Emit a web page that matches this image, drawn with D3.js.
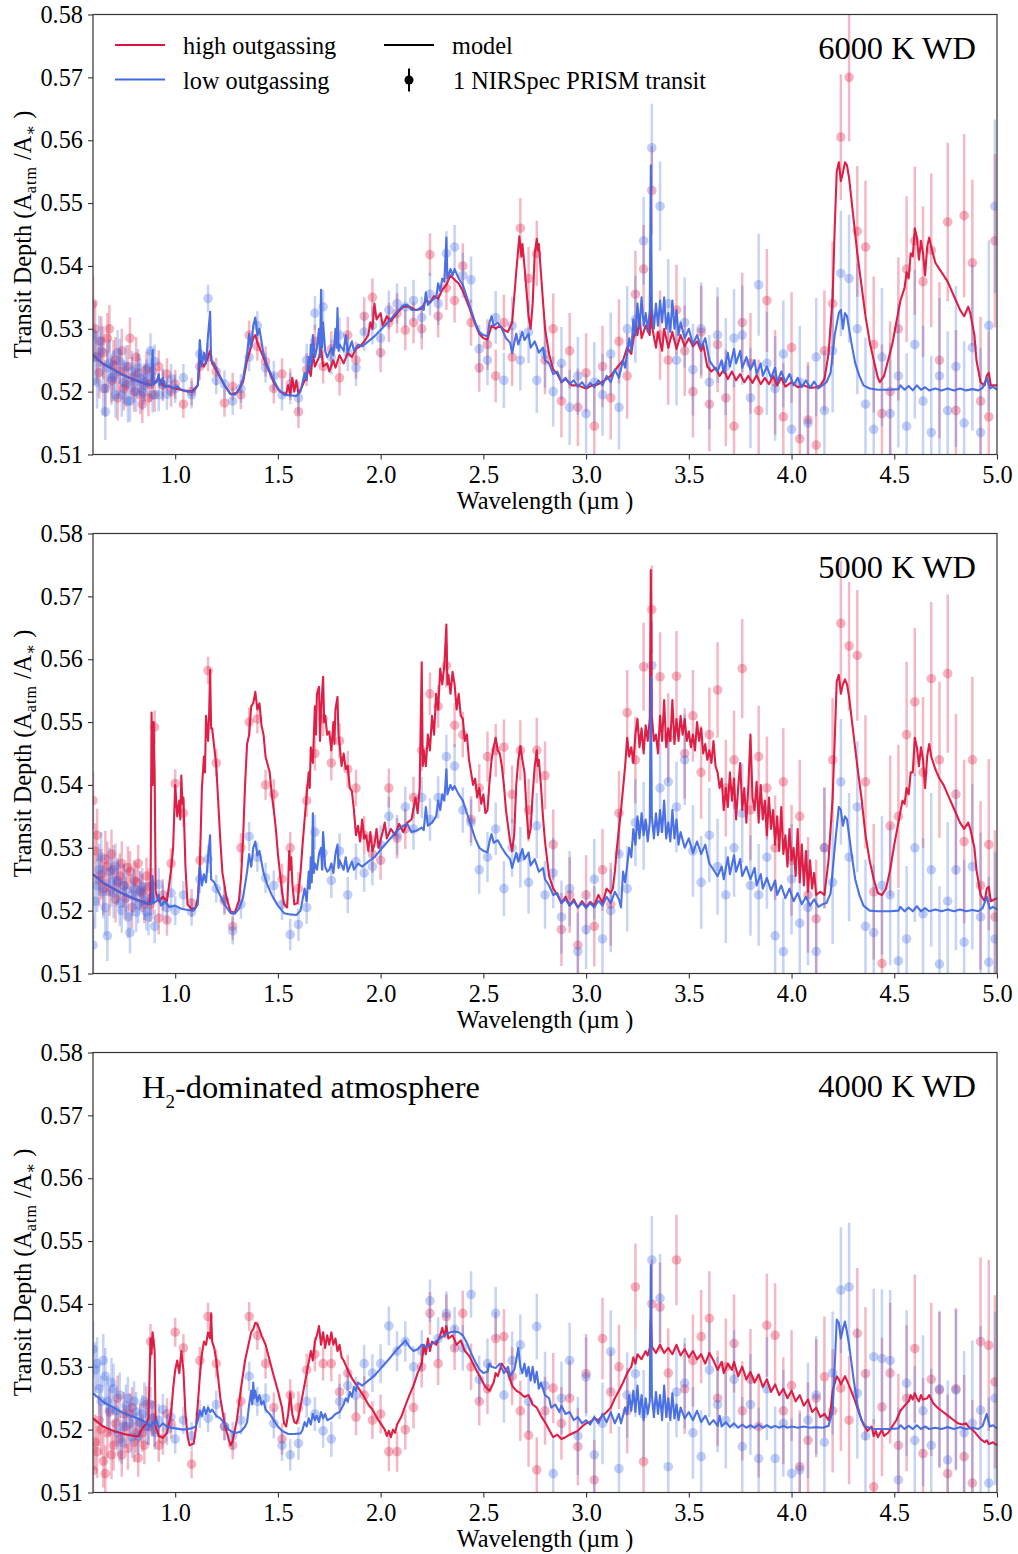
<!DOCTYPE html>
<html>
<head>
<meta charset="utf-8">
<script src="https://cdnjs.cloudflare.com/ajax/libs/d3/7.8.5/d3.min.js"></script>
<style>
  body { margin: 0; background: #fff; }
  svg text { font-family: "Liberation Serif", "Times New Roman", "DejaVu Serif", serif !important; fill: #000; }
</style>
</head>
<body>
<div id="chart"></div>
<script>
// tick values
var xTicks = [1.0, 1.5, 2.0, 2.5, 3.0, 3.5, 4.0, 4.5, 5.0];
var yTicks = [0.51, 0.52, 0.53, 0.54, 0.55, 0.56, 0.57, 0.58];

// wavelength bins of the simulated PRISM spectrum (um) and their 1-sigma errors
var binWl = [0.60,0.62,0.64,0.66,0.68,0.70,0.72,0.74,0.76,0.78,0.80,0.82,0.84,0.86,0.88,0.90,0.92,0.94,0.96,0.98,
  1.00,1.04,1.08,1.12,1.16,1.20,1.24,1.28,1.32,1.36,1.40,1.44,1.48,1.52,1.56,1.60,
  1.64,1.68,1.72,1.76,1.80,1.84,1.88,1.92,1.96,2.00,2.04,2.08,2.12,2.16,2.20,2.24,2.28,2.32,2.36,2.40,2.44,2.48,
  2.52,2.56,2.60,2.64,2.68,2.72,2.76,2.80,2.84,2.88,2.92,2.96,
  3.00,3.04,3.08,3.12,3.16,3.20,3.24,3.28,3.32,3.36,3.40,3.44,3.48,3.52,3.56,3.60,3.64,3.68,3.72,3.76,3.80,3.84,3.88,3.92,3.96,
  4.00,4.04,4.08,4.12,4.16,4.20,4.24,4.28,4.32,4.36,4.40,4.44,4.48,4.52,4.56,4.60,4.64,4.68,4.72,4.76,4.80,4.84,4.88,4.92,4.96,4.99];
var binErr = [.0045,.0042,.0040,.0045,.0038,.0040,.0036,.0035,.0034,.0033,.0032,.0030,.0030,.0029,.0028,.0027,.0026,.0025,.0025,.0024,
  .0023,.0022,.0022,.0022,.0022,.0022,.0022,.0022,.0023,.0023,.0023,.0024,.0024,.0025,.0025,.0026,
  .0026,.0027,.0027,.0028,.0028,.0029,.0029,.0030,.0030,.0031,.0031,.0032,.0032,.0033,.0033,.0034,.0034,.0035,.0035,.0036,.0037,.0038,
  .0040,.0042,.0044,.0046,.0048,.0050,.0052,.0054,.0056,.0058,.0060,.0062,
  .0063,.0064,.0065,.0066,.0067,.0068,.0069,.0070,.0070,.0071,.0071,.0072,.0072,.0073,.0074,.0075,.0076,.0077,.0078,.0079,.0080,.0081,.0082,.0083,.0085,
  .0088,.0090,.0092,.0094,.0096,.0098,.0100,.0102,.0104,.0106,.0108,.0110,.0112,.0114,.0116,.0118,.0120,.0122,.0124,.0126,.0128,.0130,.0132,.0134,.0136,.0138];

// extra short-wavelength bins (the prism samples the blue end more densely)
var blueWl = [0.61,0.63,0.65,0.67,0.69,0.71,0.73,0.75,0.77,0.79,0.81,0.83,0.85,0.87,0.89];
var blueErr = [.0044,.0041,.0042,.0040,.0039,.0037,.0036,.0035,.0034,.0033,.0032,.0031,.0030,.0029,.0028];

// simulated observations, one value per bin
var obs6000High = [.5340,.5255,.5280,.5205,.5300,.5242,.5190,.5265,.5210,.5285,.5200,.5230,.5180,.5235,.5212,.5195,.5240,.5210,.5228,.5200,
  .5212,.5180,.5200,.5240,.5255,.5232,.5182,.5208,.5195,.5290,.5272,.5248,.5205,.5228,.5212,.5168,
  .5235,.5280,.5240,.5268,.5222,.5290,.5250,.5320,.5350,.5262,.5310,.5325,.5298,.5310,.5300,.5418,.5320,.5365,.5345,.5400,.5310,.5238,
  .5275,.5225,.5310,.5255,.5460,.5380,.5420,.5250,.5300,.5185,.5265,.5175,
  .5230,.5145,.5240,.5190,.5280,.5225,.5355,.5395,.5520,.5290,.5250,.5330,.5265,.5200,.5295,.5180,.5275,.5190,.5145,.5310,.5245,.5170,.5345,.5215,.5160,
  .5270,.5125,.5155,.5115,.5265,.5340,.5605,.5700,.5455,.5430,.5275,.5165,.5200,.5300,.5395,.5440,.5375,.5425,.5250,.5470,.5170,.5480,.5405,.5185,.5160,.5440];
var obs6000Low = [.5290,.5215,.5265,.5168,.5245,.5225,.5262,.5195,.5240,.5185,.5215,.5238,.5200,.5222,.5265,.5248,.5195,.5212,.5196,.5220,
  .5205,.5222,.5195,.5260,.5348,.5218,.5212,.5185,.5205,.5255,.5305,.5238,.5225,.5195,.5205,.5190,
  .5250,.5325,.5335,.5255,.5290,.5262,.5238,.5295,.5305,.5285,.5330,.5340,.5335,.5345,.5318,.5355,.5340,.5420,.5430,.5385,.5378,.5268,
  .5250,.5318,.5218,.5305,.5250,.5295,.5218,.5260,.5200,.5245,.5175,.5225,
  .5165,.5215,.5195,.5260,.5175,.5300,.5315,.5440,.5588,.5495,.5340,.5250,.5310,.5235,.5300,.5215,.5290,.5240,.5285,.5290,.5190,.5370,.5245,.5205,.5260,
  .5140,.5215,.5150,.5255,.5170,.5265,.5388,.5380,.5300,.5180,.5140,.5255,.5165,.5225,.5145,.5275,.5185,.5135,.5225,.5170,.5240,.5150,.5270,.5135,.5305,.5495];
var obs5000High = [.5375,.5320,.5258,.5282,.5230,.5265,.5245,.5275,.5220,.5262,.5248,.5275,.5228,.5255,.5210,.5492,.5188,.5225,.5185,.5275,
  .5402,.5355,.5212,.5280,.5582,.5435,.5215,.5175,.5300,.5500,.5505,.5400,.5385,.5250,.5300,.5235,
  .5375,.5450,.5505,.5435,.5470,.5425,.5395,.5320,.5290,.5280,.5395,.5315,.5330,.5380,.5455,.5545,.5525,.5590,.5495,.5480,.5345,.5395,
  .5445,.5455,.5460,.5385,.5455,.5360,.5455,.5415,.5305,.5170,.5225,.5145,
  .5225,.5175,.5265,.5210,.5355,.5515,.5440,.5588,.5679,.5572,.5475,.5573,.5450,.5510,.5420,.5480,.5551,.5395,.5440,.5585,.5360,.5445,.5395,.5300,.5405,
  .5280,.5350,.5225,.5187,.5300,.5440,.5657,.5621,.5606,.5405,.5230,.5116,.5335,.5350,.5480,.5532,.5420,.5569,.5440,.5577,.5385,.5310,.5440,.5240,.5305,.5190];
var obs5000Low = [.5145,.5240,.5285,.5205,.5262,.5228,.5248,.5200,.5232,.5165,.5235,.5210,.5238,.5198,.5220,.5175,.5242,.5215,.5205,.5228,
  .5200,.5225,.5198,.5250,.5282,.5235,.5218,.5168,.5210,.5318,.5285,.5252,.5240,.5210,.5162,.5178,
  .5205,.5325,.5292,.5248,.5295,.5225,.5278,.5260,.5270,.5305,.5350,.5320,.5365,.5330,.5380,.5345,.5380,.5445,.5430,.5360,.5340,.5265,
  .5285,.5330,.5235,.5300,.5285,.5245,.5335,.5225,.5260,.5190,.5235,.5135,
  .5170,.5250,.5155,.5200,.5290,.5235,.5340,.5335,.5590,.5395,.5405,.5365,.5440,.5295,.5245,.5320,.5270,.5225,.5300,.5355,.5240,.5225,.5285,.5160,.5135,
  .5250,.5180,.5205,.5135,.5300,.5245,.5405,.5285,.5365,.5175,.5165,.5240,.5225,.5120,.5155,.5300,.5195,.5265,.5115,.5215,.5265,.5150,.5270,.5190,.5118,.5155];
var obs4000High = [.5135,.5165,.5200,.5130,.5228,.5175,.5250,.5160,.5205,.5225,.5180,.5155,.5195,.5240,.5340,.5200,.5175,.5185,.5225,.5210,
  .5355,.5330,.5145,.5310,.5380,.5305,.5205,.5175,.5245,.5380,.5350,.5305,.5235,.5185,.5255,.5235,
  .5295,.5320,.5305,.5305,.5260,.5290,.5220,.5255,.5215,.5225,.5165,.5165,.5200,.5235,.5300,.5385,.5305,.5380,.5330,.5385,.5300,.5245,
  .5265,.5345,.5348,.5285,.5230,.5191,.5136,.5230,.5266,.5210,.5250,.5173,
  .5289,.5120,.5345,.5260,.5300,.5230,.5427,.5149,.5400,.5395,.5290,.5470,.5265,.5310,.5348,.5377,.5250,.5300,.5337,.5230,.5280,.5205,.5366,.5350,.5230,
  .5270,.5141,.5183,.5250,.5284,.5230,.5266,.5215,.5353,.5289,.5109,.5236,.5290,.5175,.5250,.5329,.5162,.5280,.5263,.5130,.5265,.5157,.5115,.5340,.5334,.5276];
var obs4000Low = [.5328,.5305,.5245,.5285,.5232,.5265,.5195,.5180,.5238,.5210,.5245,.5190,.5225,.5205,.5240,.5195,.5215,.5232,.5200,.5220,
  .5185,.5215,.5190,.5225,.5218,.5240,.5205,.5190,.5215,.5285,.5245,.5250,.5210,.5175,.5160,.5178,
  .5245,.5225,.5198,.5185,.5245,.5270,.5255,.5305,.5290,.5305,.5365,.5325,.5340,.5300,.5325,.5405,.5345,.5385,.5360,.5330,.5415,.5280,
  .5305,.5385,.5255,.5310,.5335,.5245,.5364,.5270,.5130,.5250,.5310,.5190,
  .5284,.5160,.5210,.5324,.5138,.5255,.5289,.5225,.5470,.5409,.5141,.5260,.5274,.5195,.5157,.5295,.5240,.5215,.5280,.5173,.5240,.5154,.5265,.5154,.5210,
  .5130,.5136,.5215,.5255,.5180,.5290,.5422,.5427,.5258,.5190,.5316,.5313,.5310,.5120,.5274,.5183,.5230,.5175,.5265,.5152,.5263,.5195,.5210,.5231,.5115,.5250];

// observations in the extra short-wavelength bins
var blue6000High = [.5300,.5230,.5262,.5285,.5218,.5250,.5232,.5205,.5240,.5222,.5255,.5195,.5215,.5190,.5232];
var blue6000Low = [.5255,.5280,.5205,.5238,.5222,.5195,.5248,.5215,.5185,.5232,.5200,.5222,.5210,.5238,.5195];
var blue5000High = [.5295,.5248,.5235,.5270,.5290,.5218,.5255,.5240,.5268,.5205,.5245,.5232,.5210,.5238,.5222];
var blue5000Low = [.5215,.5265,.5230,.5160,.5245,.5270,.5212,.5240,.5190,.5225,.5198,.5230,.5215,.5190,.5240];
var blue4000High = [.5180,.5215,.5150,.5195,.5160,.5210,.5185,.5225,.5170,.5235,.5195,.5210,.5175,.5205,.5218];
var blue4000Low = [.5295,.5265,.5310,.5245,.5275,.5230,.5255,.5205,.5250,.5188,.5228,.5212,.5245,.5205,.5218];

// model spectra as [wavelength, transit depth]
var model6000Low = [[0.60,.5258],[0.65,.5244],[0.70,.5235],[0.75,.5226],[0.80,.5219],[0.85,.5213],[0.885,.5210],[0.89,.5266],[0.895,.5212],[0.91,.5215],[0.92,.5228],[0.925,.5210],[0.94,.5222],[0.95,.5207],[0.97,.5210],[0.99,.5205],[1.01,.5208],[1.03,.5203],[1.06,.5200],[1.09,.5200],[1.11,.5210],[1.12,.5282],[1.13,.5240],[1.14,.5262],[1.15,.5245],[1.16,.5290],[1.17,.5327],[1.175,.5250],[1.19,.5245],[1.21,.5230],[1.24,.5210],[1.27,.5196],[1.29,.5195],[1.31,.5203],[1.33,.5220],[1.35,.5260],[1.36,.5292],[1.37,.5270],[1.38,.5305],[1.39,.5318],[1.40,.5290],[1.41,.5300],[1.43,.5260],[1.45,.5240],[1.47,.5225],[1.50,.5205],[1.53,.5195],[1.56,.5194],[1.59,.5193],[1.61,.5200],[1.63,.5230],[1.64,.5218],[1.65,.5255],[1.655,.5235],[1.66,.5275],[1.665,.5245],[1.67,.5290],[1.68,.5255],[1.69,.5270],[1.70,.5300],[1.705,.5255],[1.71,.5362],[1.715,.5270],[1.72,.5310],[1.73,.5265],[1.74,.5255],[1.75,.5262],[1.76,.5270],[1.77,.5258],[1.78,.5300],[1.785,.5270],[1.79,.5333],[1.795,.5265],[1.80,.5275],[1.82,.5265],[1.83,.5290],[1.84,.5262],[1.86,.5280],[1.87,.5265],[1.89,.5275],[1.91,.5272],[1.94,.5280],[1.97,.5288],[2.00,.5298],[2.04,.5312],[2.08,.5327],[2.11,.5337],[2.13,.5338],[2.15,.5330],[2.18,.5330],[2.20,.5335],[2.21,.5330],[2.22,.5358],[2.23,.5338],[2.25,.5345],[2.27,.5350],[2.28,.5372],[2.29,.5360],[2.30,.5380],[2.31,.5375],[2.32,.5445],[2.325,.5380],[2.34,.5395],[2.35,.5385],[2.36,.5395],[2.38,.5380],[2.40,.5370],[2.42,.5350],[2.44,.5330],[2.46,.5310],[2.48,.5295],[2.50,.5290],[2.52,.5288],[2.53,.5310],[2.54,.5320],[2.55,.5305],[2.57,.5310],[2.59,.5300],[2.61,.5285],[2.63,.5278],[2.64,.5262],[2.66,.5292],[2.67,.5275],[2.69,.5295],[2.70,.5282],[2.72,.5292],[2.73,.5270],[2.75,.5280],[2.77,.5262],[2.79,.5270],[2.80,.5250],[2.82,.5245],[2.84,.5228],[2.86,.5232],[2.88,.5215],[2.90,.5222],[2.92,.5212],[2.94,.5218],[2.96,.5208],[2.98,.5215],[3.00,.5206],[3.02,.5214],[3.04,.5207],[3.06,.5218],[3.08,.5210],[3.10,.5225],[3.12,.5215],[3.14,.5235],[3.16,.5222],[3.18,.5250],[3.19,.5238],[3.21,.5285],[3.22,.5265],[3.23,.5315],[3.24,.5290],[3.25,.5340],[3.26,.5300],[3.27,.5350],[3.28,.5305],[3.29,.5325],[3.30,.5295],[3.31,.5330],[3.315,.5560],[3.32,.5335],[3.33,.5300],[3.34,.5340],[3.35,.5305],[3.36,.5345],[3.37,.5310],[3.38,.5350],[3.39,.5300],[3.40,.5325],[3.41,.5295],[3.42,.5345],[3.43,.5300],[3.44,.5330],[3.45,.5290],[3.46,.5310],[3.48,.5285],[3.50,.5300],[3.52,.5275],[3.54,.5290],[3.56,.5270],[3.58,.5285],[3.60,.5250],[3.62,.5240],[3.64,.5232],[3.66,.5250],[3.67,.5230],[3.69,.5262],[3.70,.5240],[3.72,.5268],[3.73,.5245],[3.75,.5265],[3.76,.5238],[3.78,.5255],[3.80,.5235],[3.82,.5250],[3.83,.5228],[3.85,.5245],[3.86,.5225],[3.88,.5240],[3.90,.5222],[3.92,.5238],[3.93,.5215],[3.95,.5232],[3.97,.5215],[3.99,.5228],[4.01,.5210],[4.03,.5222],[4.05,.5207],[4.07,.5218],[4.09,.5206],[4.11,.5216],[4.13,.5205],[4.15,.5210],[4.17,.5215],[4.19,.5230],[4.21,.5290],[4.23,.5325],[4.24,.5330],[4.25,.5300],[4.26,.5325],[4.27,.5320],[4.29,.5280],[4.31,.5245],[4.33,.5225],[4.35,.5210],[4.38,.5205],[4.42,.5203],[4.48,.5203],[4.52,.5204],[4.53,.5210],[4.55,.5203],[4.57,.5209],[4.59,.5202],[4.61,.5210],[4.63,.5203],[4.65,.5207],[4.67,.5202],[4.70,.5205],[4.73,.5202],[4.76,.5205],[4.79,.5202],[4.82,.5205],[4.85,.5202],[4.88,.5204],[4.91,.5202],[4.93,.5206],[4.95,.5222],[4.965,.5205],[4.98,.5208],[5.00,.5203]];

var model6000High = [[0.60,.5258],[0.65,.5244],[0.70,.5235],[0.75,.5226],[0.80,.5219],[0.85,.5213],[0.885,.5210],[0.89,.5245],[0.895,.5212],[0.92,.5222],[0.94,.5210],[0.97,.5208],[1.00,.5205],[1.04,.5202],[1.08,.5200],[1.11,.5210],[1.12,.5250],[1.14,.5240],[1.16,.5255],[1.17,.5265],[1.18,.5245],[1.21,.5228],[1.24,.5210],[1.27,.5196],[1.30,.5198],[1.33,.5215],[1.35,.5250],[1.37,.5272],[1.38,.5285],[1.39,.5290],[1.40,.5278],[1.42,.5262],[1.45,.5238],[1.48,.5215],[1.51,.5200],[1.54,.5196],[1.55,.5210],[1.56,.5195],[1.57,.5222],[1.58,.5200],[1.59,.5218],[1.60,.5196],[1.62,.5210],[1.64,.5225],[1.65,.5240],[1.66,.5225],[1.67,.5260],[1.68,.5240],[1.70,.5255],[1.71,.5270],[1.72,.5240],[1.74,.5245],[1.75,.5232],[1.77,.5250],[1.78,.5238],[1.80,.5258],[1.82,.5245],[1.84,.5262],[1.86,.5255],[1.88,.5268],[1.90,.5272],[1.92,.5280],[1.94,.5290],[1.95,.5310],[1.96,.5300],[1.97,.5340],[1.98,.5315],[2.00,.5325],[2.01,.5305],[2.03,.5320],[2.05,.5312],[2.08,.5325],[2.11,.5335],[2.14,.5335],[2.17,.5330],[2.20,.5332],[2.22,.5345],[2.24,.5342],[2.26,.5352],[2.28,.5348],[2.30,.5362],[2.32,.5370],[2.34,.5385],[2.36,.5378],[2.38,.5372],[2.40,.5360],[2.43,.5335],[2.46,.5308],[2.48,.5292],[2.50,.5285],[2.52,.5283],[2.54,.5305],[2.56,.5300],[2.58,.5305],[2.60,.5298],[2.62,.5295],[2.64,.5310],[2.66,.5390],[2.675,.5447],[2.685,.5415],[2.69,.5435],[2.70,.5400],[2.72,.5320],[2.73,.5300],[2.74,.5340],[2.75,.5420],[2.76,.5443],[2.765,.5425],[2.77,.5435],[2.78,.5390],[2.80,.5300],[2.82,.5260],[2.84,.5235],[2.86,.5228],[2.88,.5215],[2.90,.5220],[2.93,.5210],[2.96,.5210],[3.00,.5205],[3.03,.5210],[3.06,.5212],[3.09,.5218],[3.12,.5225],[3.15,.5238],[3.18,.5250],[3.20,.5270],[3.22,.5260],[3.24,.5305],[3.25,.5290],[3.26,.5320],[3.27,.5285],[3.29,.5305],[3.31,.5290],[3.315,.5350],[3.32,.5305],[3.34,.5270],[3.35,.5295],[3.37,.5265],[3.38,.5300],[3.40,.5270],[3.42,.5295],[3.44,.5268],[3.46,.5290],[3.48,.5272],[3.50,.5285],[3.52,.5272],[3.54,.5280],[3.56,.5265],[3.57,.5275],[3.59,.5240],[3.61,.5232],[3.63,.5238],[3.65,.5225],[3.67,.5235],[3.69,.5220],[3.71,.5232],[3.73,.5218],[3.75,.5228],[3.77,.5215],[3.79,.5225],[3.81,.5214],[3.83,.5226],[3.85,.5212],[3.87,.5222],[3.89,.5212],[3.91,.5225],[3.93,.5210],[3.95,.5222],[3.97,.5208],[4.00,.5215],[4.03,.5207],[4.06,.5210],[4.09,.5206],[4.12,.5207],[4.14,.5210],[4.16,.5220],[4.18,.5260],[4.20,.5350],[4.21,.5460],[4.22,.5550],[4.23,.5565],[4.24,.5535],[4.25,.5548],[4.26,.5565],[4.27,.5560],[4.28,.5540],[4.30,.5480],[4.32,.5420],[4.34,.5370],[4.36,.5320],[4.38,.5280],[4.40,.5250],[4.42,.5222],[4.43,.5215],[4.45,.5225],[4.47,.5250],[4.49,.5275],[4.51,.5310],[4.53,.5345],[4.55,.5365],[4.56,.5390],[4.57,.5380],[4.58,.5420],[4.59,.5415],[4.60,.5460],[4.61,.5445],[4.62,.5410],[4.63,.5440],[4.64,.5420],[4.65,.5385],[4.66,.5430],[4.67,.5445],[4.68,.5430],[4.70,.5405],[4.72,.5395],[4.74,.5385],[4.76,.5375],[4.78,.5360],[4.80,.5345],[4.82,.5330],[4.84,.5320],[4.86,.5335],[4.87,.5325],[4.89,.5290],[4.90,.5250],[4.92,.5215],[4.94,.5210],[4.95,.5225],[4.96,.5230],[4.97,.5210],[5.00,.5210]];

var model5000Low = [[0.60,.5258],[0.65,.5244],[0.70,.5235],[0.75,.5226],[0.80,.5219],[0.85,.5213],[0.885,.5210],[0.89,.5255],[0.895,.5212],[0.91,.5215],[0.92,.5225],[0.93,.5208],[0.95,.5215],[0.97,.5206],[1.00,.5208],[1.03,.5203],[1.06,.5201],[1.09,.5200],[1.11,.5210],[1.12,.5270],[1.13,.5240],[1.14,.5258],[1.15,.5245],[1.16,.5285],[1.17,.5320],[1.175,.5250],[1.19,.5245],[1.21,.5230],[1.24,.5210],[1.27,.5196],[1.29,.5195],[1.31,.5203],[1.33,.5220],[1.35,.5262],[1.36,.5290],[1.37,.5270],[1.38,.5300],[1.39,.5310],[1.40,.5288],[1.41,.5295],[1.43,.5260],[1.45,.5240],[1.47,.5225],[1.50,.5208],[1.53,.5196],[1.56,.5194],[1.59,.5193],[1.61,.5200],[1.63,.5235],[1.64,.5215],[1.65,.5262],[1.655,.5235],[1.66,.5285],[1.665,.5245],[1.67,.5355],[1.675,.5260],[1.68,.5275],[1.69,.5265],[1.70,.5290],[1.71,.5300],[1.715,.5265],[1.72,.5325],[1.73,.5270],[1.74,.5262],[1.75,.5265],[1.76,.5275],[1.77,.5260],[1.78,.5290],[1.79,.5305],[1.795,.5268],[1.80,.5280],[1.82,.5265],[1.83,.5285],[1.84,.5262],[1.86,.5278],[1.87,.5265],[1.89,.5275],[1.91,.5270],[1.94,.5278],[1.97,.5285],[2.00,.5297],[2.04,.5312],[2.08,.5327],[2.11,.5335],[2.13,.5338],[2.15,.5325],[2.18,.5328],[2.20,.5332],[2.21,.5328],[2.22,.5365],[2.23,.5335],[2.25,.5340],[2.27,.5350],[2.28,.5375],[2.29,.5360],[2.30,.5385],[2.31,.5375],[2.32,.5425],[2.325,.5385],[2.34,.5400],[2.35,.5392],[2.36,.5398],[2.38,.5385],[2.40,.5375],[2.42,.5355],[2.44,.5335],[2.46,.5315],[2.48,.5300],[2.50,.5295],[2.52,.5293],[2.53,.5310],[2.54,.5322],[2.55,.5308],[2.57,.5312],[2.59,.5300],[2.61,.5290],[2.63,.5282],[2.64,.5268],[2.66,.5292],[2.67,.5278],[2.69,.5298],[2.70,.5282],[2.72,.5292],[2.73,.5272],[2.75,.5282],[2.77,.5262],[2.79,.5268],[2.80,.5250],[2.82,.5240],[2.84,.5225],[2.86,.5228],[2.88,.5212],[2.90,.5218],[2.92,.5208],[2.94,.5215],[2.96,.5205],[2.98,.5212],[3.00,.5204],[3.02,.5212],[3.04,.5205],[3.06,.5216],[3.08,.5208],[3.10,.5222],[3.12,.5212],[3.14,.5230],[3.16,.5218],[3.17,.5205],[3.18,.5262],[3.19,.5245],[3.21,.5300],[3.22,.5285],[3.23,.5330],[3.24,.5305],[3.25,.5350],[3.26,.5315],[3.27,.5355],[3.28,.5320],[3.29,.5345],[3.30,.5310],[3.31,.5340],[3.315,.5572],[3.32,.5350],[3.33,.5315],[3.34,.5355],[3.35,.5320],[3.36,.5360],[3.37,.5325],[3.38,.5375],[3.39,.5315],[3.40,.5340],[3.41,.5310],[3.42,.5360],[3.43,.5315],[3.44,.5345],[3.45,.5305],[3.46,.5325],[3.48,.5300],[3.50,.5315],[3.52,.5292],[3.54,.5310],[3.56,.5290],[3.58,.5305],[3.60,.5275],[3.62,.5265],[3.64,.5255],[3.66,.5270],[3.67,.5250],[3.69,.5285],[3.70,.5258],[3.72,.5288],[3.73,.5262],[3.75,.5282],[3.76,.5255],[3.78,.5270],[3.80,.5250],[3.82,.5268],[3.83,.5240],[3.85,.5258],[3.86,.5235],[3.88,.5252],[3.90,.5232],[3.92,.5248],[3.93,.5225],[3.95,.5240],[3.97,.5220],[3.99,.5235],[4.01,.5215],[4.03,.5228],[4.05,.5210],[4.07,.5222],[4.09,.5208],[4.11,.5218],[4.13,.5206],[4.15,.5210],[4.17,.5212],[4.19,.5228],[4.21,.5300],[4.23,.5365],[4.24,.5360],[4.25,.5335],[4.26,.5350],[4.27,.5345],[4.29,.5295],[4.31,.5250],[4.33,.5225],[4.35,.5208],[4.38,.5200],[4.42,.5199],[4.48,.5199],[4.52,.5200],[4.53,.5206],[4.55,.5199],[4.57,.5205],[4.59,.5199],[4.61,.5207],[4.63,.5199],[4.65,.5204],[4.67,.5199],[4.70,.5202],[4.73,.5199],[4.76,.5202],[4.79,.5199],[4.82,.5202],[4.85,.5199],[4.88,.5201],[4.91,.5199],[4.93,.5204],[4.95,.5222],[4.965,.5203],[4.98,.5206],[5.00,.5202]];

var model5000High = [[0.60,.5258],[0.65,.5244],[0.70,.5235],[0.75,.5226],[0.80,.5219],[0.85,.5213],[0.875,.5210],[0.88,.5225],[0.885,.5515],[0.89,.5400],[0.895,.5500],[0.90,.5420],[0.905,.5230],[0.92,.5215],[0.94,.5222],[0.96,.5215],[0.97,.5240],[0.98,.5265],[0.99,.5300],[1.00,.5400],[1.01,.5350],[1.02,.5375],[1.025,.5345],[1.03,.5415],[1.035,.5370],[1.04,.5380],[1.05,.5270],[1.06,.5210],[1.08,.5202],[1.10,.5205],[1.11,.5220],[1.12,.5270],[1.13,.5395],[1.14,.5445],[1.145,.5420],[1.15,.5510],[1.16,.5470],[1.165,.5510],[1.17,.5583],[1.175,.5490],[1.18,.5490],[1.19,.5460],[1.20,.5430],[1.21,.5370],[1.22,.5310],[1.23,.5260],[1.25,.5220],[1.27,.5198],[1.29,.5197],[1.31,.5215],[1.32,.5250],[1.33,.5310],[1.34,.5400],[1.35,.5465],[1.36,.5480],[1.37,.5525],[1.38,.5530],[1.39,.5548],[1.40,.5520],[1.41,.5530],[1.42,.5495],[1.43,.5480],[1.44,.5445],[1.46,.5420],[1.47,.5385],[1.48,.5360],[1.49,.5330],[1.50,.5290],[1.52,.5230],[1.53,.5210],[1.545,.5205],[1.55,.5245],[1.555,.5295],[1.56,.5265],[1.565,.5285],[1.57,.5245],[1.58,.5210],[1.595,.5212],[1.61,.5260],[1.62,.5305],[1.63,.5345],[1.64,.5385],[1.65,.5420],[1.655,.5395],[1.66,.5460],[1.67,.5435],[1.68,.5525],[1.685,.5480],[1.69,.5545],[1.70,.5556],[1.705,.5470],[1.71,.5520],[1.72,.5572],[1.725,.5500],[1.73,.5510],[1.74,.5480],[1.75,.5485],[1.76,.5455],[1.77,.5500],[1.775,.5465],[1.78,.5520],[1.79,.5540],[1.795,.5480],[1.80,.5465],[1.81,.5430],[1.82,.5450],[1.83,.5425],[1.84,.5430],[1.85,.5395],[1.86,.5390],[1.87,.5360],[1.88,.5320],[1.89,.5335],[1.90,.5310],[1.91,.5345],[1.92,.5315],[1.93,.5320],[1.94,.5295],[1.95,.5325],[1.96,.5295],[1.97,.5305],[1.98,.5330],[1.99,.5300],[2.01,.5325],[2.02,.5340],[2.03,.5315],[2.05,.5330],[2.07,.5320],[2.09,.5338],[2.11,.5325],[2.13,.5340],[2.15,.5345],[2.17,.5380],[2.18,.5355],[2.19,.5395],[2.20,.5595],[2.205,.5430],[2.21,.5455],[2.22,.5430],[2.23,.5480],[2.24,.5455],[2.25,.5510],[2.26,.5480],[2.27,.5545],[2.28,.5520],[2.29,.5585],[2.30,.5560],[2.31,.5590],[2.32,.5655],[2.325,.5560],[2.33,.5575],[2.34,.5545],[2.35,.5580],[2.36,.5560],[2.37,.5520],[2.38,.5545],[2.39,.5510],[2.40,.5505],[2.41,.5470],[2.42,.5480],[2.43,.5440],[2.44,.5420],[2.45,.5400],[2.46,.5410],[2.47,.5380],[2.48,.5395],[2.49,.5370],[2.50,.5385],[2.51,.5355],[2.52,.5360],[2.53,.5405],[2.54,.5440],[2.55,.5460],[2.56,.5475],[2.57,.5455],[2.58,.5450],[2.59,.5430],[2.60,.5400],[2.61,.5360],[2.62,.5335],[2.63,.5310],[2.64,.5295],[2.65,.5320],[2.66,.5400],[2.67,.5440],[2.68,.5462],[2.69,.5440],[2.70,.5420],[2.71,.5360],[2.72,.5315],[2.73,.5330],[2.74,.5385],[2.75,.5430],[2.76,.5455],[2.765,.5430],[2.77,.5440],[2.78,.5400],[2.79,.5350],[2.80,.5310],[2.82,.5255],[2.84,.5235],[2.86,.5225],[2.88,.5212],[2.90,.5222],[2.92,.5208],[2.94,.5218],[2.96,.5205],[2.98,.5215],[3.00,.5206],[3.02,.5214],[3.04,.5208],[3.06,.5225],[3.08,.5212],[3.10,.5235],[3.12,.5228],[3.13,.5235],[3.14,.5262],[3.15,.5300],[3.16,.5330],[3.17,.5360],[3.18,.5395],[3.19,.5430],[3.20,.5475],[3.21,.5445],[3.22,.5460],[3.23,.5435],[3.24,.5480],[3.25,.5505],[3.26,.5460],[3.27,.5490],[3.28,.5450],[3.29,.5495],[3.30,.5470],[3.31,.5505],[3.315,.5742],[3.32,.5510],[3.33,.5470],[3.34,.5480],[3.35,.5450],[3.36,.5510],[3.37,.5470],[3.38,.5535],[3.39,.5460],[3.40,.5490],[3.41,.5470],[3.42,.5535],[3.43,.5465],[3.44,.5505],[3.45,.5470],[3.46,.5510],[3.47,.5480],[3.48,.5505],[3.49,.5470],[3.50,.5485],[3.51,.5460],[3.52,.5480],[3.53,.5455],[3.54,.5500],[3.55,.5470],[3.56,.5490],[3.57,.5450],[3.58,.5465],[3.59,.5440],[3.60,.5455],[3.61,.5435],[3.62,.5470],[3.63,.5430],[3.64,.5420],[3.65,.5395],[3.66,.5410],[3.67,.5360],[3.68,.5395],[3.69,.5365],[3.70,.5420],[3.71,.5375],[3.72,.5410],[3.73,.5345],[3.74,.5395],[3.75,.5435],[3.76,.5360],[3.77,.5395],[3.78,.5340],[3.79,.5400],[3.80,.5480],[3.81,.5380],[3.82,.5360],[3.83,.5405],[3.84,.5340],[3.85,.5400],[3.86,.5345],[3.87,.5375],[3.88,.5320],[3.89,.5380],[3.90,.5330],[3.91,.5360],[3.92,.5305],[3.93,.5350],[3.94,.5295],[3.95,.5365],[3.96,.5290],[3.97,.5320],[3.98,.5270],[3.99,.5330],[4.00,.5280],[4.01,.5300],[4.02,.5255],[4.03,.5330],[4.04,.5245],[4.05,.5305],[4.06,.5240],[4.07,.5295],[4.08,.5230],[4.09,.5280],[4.10,.5235],[4.11,.5260],[4.12,.5225],[4.14,.5230],[4.16,.5225],[4.18,.5280],[4.20,.5380],[4.21,.5470],[4.22,.5565],[4.23,.5575],[4.24,.5545],[4.25,.5560],[4.26,.5568],[4.27,.5560],[4.28,.5540],[4.30,.5485],[4.32,.5430],[4.34,.5380],[4.36,.5320],[4.38,.5280],[4.40,.5250],[4.42,.5228],[4.44,.5225],[4.46,.5235],[4.48,.5265],[4.50,.5305],[4.52,.5340],[4.54,.5375],[4.55,.5370],[4.56,.5395],[4.57,.5385],[4.58,.5420],[4.59,.5420],[4.60,.5475],[4.61,.5460],[4.62,.5430],[4.63,.5460],[4.64,.5440],[4.65,.5395],[4.66,.5445],[4.67,.5465],[4.68,.5445],[4.70,.5425],[4.72,.5410],[4.74,.5400],[4.76,.5385],[4.78,.5370],[4.80,.5355],[4.82,.5340],[4.84,.5330],[4.86,.5340],[4.87,.5330],[4.89,.5300],[4.90,.5265],[4.92,.5225],[4.94,.5215],[4.95,.5235],[4.96,.5238],[4.97,.5215],[5.00,.5220]];

var model4000Low = [[0.60,.5258],[0.65,.5244],[0.70,.5235],[0.75,.5226],[0.80,.5220],[0.85,.5213],[0.87,.5208],[0.88,.5205],[0.89,.5212],[0.90,.5208],[0.91,.5215],[0.92,.5203],[0.94,.5210],[0.96,.5205],[0.98,.5203],[1.00,.5202],[1.04,.5200],[1.08,.5202],[1.10,.5205],[1.11,.5215],[1.12,.5230],[1.13,.5222],[1.14,.5236],[1.15,.5225],[1.16,.5235],[1.17,.5228],[1.18,.5232],[1.20,.5222],[1.22,.5218],[1.24,.5210],[1.26,.5200],[1.28,.5196],[1.30,.5195],[1.32,.5197],[1.34,.5205],[1.35,.5212],[1.36,.5240],[1.37,.5262],[1.375,.5240],[1.38,.5275],[1.385,.5250],[1.39,.5262],[1.40,.5245],[1.41,.5255],[1.42,.5240],[1.43,.5245],[1.44,.5232],[1.46,.5225],[1.48,.5215],[1.50,.5205],[1.52,.5198],[1.55,.5193],[1.58,.5193],[1.61,.5194],[1.62,.5200],[1.63,.5212],[1.64,.5205],[1.65,.5218],[1.66,.5208],[1.67,.5225],[1.68,.5215],[1.69,.5222],[1.70,.5212],[1.71,.5228],[1.72,.5218],[1.73,.5225],[1.74,.5215],[1.76,.5218],[1.78,.5225],[1.80,.5228],[1.82,.5240],[1.83,.5250],[1.84,.5245],[1.85,.5260],[1.86,.5252],[1.87,.5268],[1.88,.5262],[1.89,.5275],[1.91,.5270],[1.94,.5278],[1.97,.5286],[2.00,.5297],[2.04,.5312],[2.08,.5328],[2.11,.5338],[2.12,.5342],[2.14,.5332],[2.16,.5325],[2.18,.5328],[2.20,.5335],[2.22,.5332],[2.24,.5335],[2.26,.5338],[2.28,.5343],[2.30,.5348],[2.32,.5352],[2.34,.5355],[2.36,.5356],[2.38,.5355],[2.40,.5350],[2.42,.5338],[2.44,.5322],[2.46,.5308],[2.48,.5296],[2.50,.5290],[2.52,.5292],[2.53,.5305],[2.54,.5300],[2.56,.5298],[2.58,.5305],[2.60,.5290],[2.62,.5300],[2.63,.5285],[2.65,.5295],[2.66,.5310],[2.67,.5330],[2.68,.5300],[2.69,.5290],[2.70,.5305],[2.71,.5285],[2.72,.5300],[2.73,.5278],[2.74,.5300],[2.75,.5275],[2.76,.5292],[2.77,.5265],[2.78,.5275],[2.80,.5255],[2.82,.5250],[2.83,.5235],[2.85,.5240],[2.87,.5228],[2.88,.5238],[2.90,.5225],[2.92,.5228],[2.94,.5215],[2.96,.5220],[2.98,.5210],[3.00,.5215],[3.02,.5208],[3.04,.5220],[3.06,.5210],[3.08,.5225],[3.10,.5212],[3.12,.5228],[3.14,.5210],[3.16,.5225],[3.17,.5210],[3.19,.5235],[3.20,.5225],[3.21,.5255],[3.22,.5230],[3.23,.5262],[3.24,.5228],[3.25,.5270],[3.26,.5225],[3.27,.5255],[3.28,.5215],[3.29,.5250],[3.30,.5225],[3.31,.5245],[3.315,.5462],[3.32,.5255],[3.33,.5220],[3.34,.5260],[3.35,.5225],[3.36,.5255],[3.37,.5215],[3.38,.5270],[3.39,.5220],[3.40,.5250],[3.41,.5215],[3.42,.5258],[3.43,.5218],[3.44,.5240],[3.45,.5215],[3.46,.5235],[3.48,.5218],[3.50,.5228],[3.52,.5215],[3.54,.5230],[3.56,.5212],[3.58,.5222],[3.60,.5208],[3.62,.5215],[3.64,.5206],[3.65,.5222],[3.66,.5205],[3.68,.5212],[3.70,.5204],[3.72,.5210],[3.74,.5203],[3.76,.5208],[3.78,.5203],[3.80,.5207],[3.82,.5203],[3.84,.5208],[3.86,.5203],[3.88,.5207],[3.90,.5203],[3.92,.5206],[3.94,.5203],[3.96,.5206],[3.98,.5203],[4.00,.5205],[4.03,.5203],[4.06,.5205],[4.09,.5203],[4.12,.5204],[4.15,.5203],[4.18,.5206],[4.20,.5230],[4.21,.5300],[4.22,.5375],[4.23,.5370],[4.24,.5345],[4.25,.5360],[4.26,.5372],[4.27,.5355],[4.28,.5335],[4.30,.5285],[4.32,.5240],[4.34,.5215],[4.36,.5205],[4.40,.5201],[4.48,.5201],[4.52,.5202],[4.53,.5207],[4.55,.5201],[4.57,.5206],[4.59,.5201],[4.61,.5207],[4.63,.5201],[4.65,.5205],[4.67,.5201],[4.70,.5203],[4.73,.5201],[4.76,.5204],[4.79,.5201],[4.82,.5204],[4.85,.5201],[4.88,.5203],[4.91,.5201],[4.93,.5206],[4.95,.5225],[4.965,.5205],[4.98,.5207],[5.00,.5202]];

var model4000High = [[0.60,.5218],[0.65,.5205],[0.70,.5198],[0.75,.5193],[0.80,.5190],[0.82,.5189],[0.84,.5202],[0.86,.5210],[0.87,.5218],[0.88,.5345],[0.885,.5320],[0.89,.5355],[0.90,.5325],[0.905,.5205],[0.92,.5190],[0.94,.5187],[0.96,.5195],[0.98,.5225],[0.99,.5265],[1.00,.5295],[1.01,.5310],[1.02,.5290],[1.03,.5325],[1.04,.5295],[1.05,.5225],[1.06,.5190],[1.07,.5175],[1.09,.5178],[1.10,.5200],[1.11,.5240],[1.12,.5285],[1.13,.5320],[1.14,.5340],[1.15,.5335],[1.16,.5355],[1.17,.5345],[1.175,.5385],[1.18,.5340],[1.19,.5330],[1.20,.5310],[1.21,.5280],[1.22,.5250],[1.24,.5210],[1.26,.5185],[1.27,.5175],[1.28,.5182],[1.30,.5215],[1.32,.5265],[1.34,.5310],[1.36,.5340],[1.37,.5355],[1.38,.5360],[1.39,.5370],[1.40,.5368],[1.41,.5360],[1.42,.5350],[1.44,.5335],[1.46,.5310],[1.48,.5285],[1.50,.5262],[1.52,.5235],[1.53,.5210],[1.54,.5205],[1.55,.5225],[1.56,.5258],[1.57,.5225],[1.58,.5212],[1.59,.5210],[1.60,.5220],[1.62,.5255],[1.64,.5290],[1.66,.5325],[1.67,.5310],[1.68,.5340],[1.69,.5350],[1.70,.5365],[1.71,.5335],[1.72,.5355],[1.73,.5330],[1.74,.5350],[1.75,.5335],[1.76,.5355],[1.77,.5335],[1.78,.5345],[1.79,.5325],[1.80,.5335],[1.81,.5315],[1.82,.5310],[1.84,.5295],[1.86,.5282],[1.88,.5272],[1.90,.5262],[1.92,.5252],[1.94,.5240],[1.96,.5232],[1.98,.5220],[2.00,.5210],[2.02,.5200],[2.03,.5190],[2.04,.5198],[2.05,.5188],[2.06,.5200],[2.07,.5195],[2.08,.5208],[2.10,.5220],[2.12,.5238],[2.14,.5255],[2.16,.5270],[2.18,.5290],[2.20,.5305],[2.21,.5335],[2.22,.5320],[2.23,.5345],[2.24,.5325],[2.25,.5340],[2.27,.5335],[2.29,.5350],[2.30,.5362],[2.31,.5348],[2.32,.5365],[2.33,.5345],[2.35,.5350],[2.37,.5335],[2.39,.5342],[2.41,.5325],[2.43,.5318],[2.45,.5305],[2.47,.5292],[2.49,.5280],[2.51,.5268],[2.53,.5262],[2.55,.5275],[2.56,.5290],[2.57,.5285],[2.59,.5305],[2.60,.5300],[2.62,.5290],[2.64,.5270],[2.66,.5262],[2.68,.5258],[2.70,.5252],[2.72,.5255],[2.74,.5240],[2.76,.5235],[2.78,.5222],[2.80,.5212],[2.82,.5200],[2.84,.5188],[2.86,.5192],[2.88,.5185],[2.90,.5188],[2.92,.5192],[2.94,.5195],[2.96,.5198],[2.98,.5205],[3.00,.5210],[3.02,.5212],[3.04,.5218],[3.06,.5215],[3.08,.5222],[3.10,.5228],[3.12,.5235],[3.14,.5250],[3.16,.5262],[3.18,.5275],[3.20,.5290],[3.22,.5300],[3.23,.5315],[3.24,.5305],[3.25,.5320],[3.27,.5312],[3.29,.5325],[3.30,.5318],[3.31,.5330],[3.315,.5375],[3.32,.5332],[3.34,.5322],[3.36,.5335],[3.38,.5322],[3.40,.5330],[3.42,.5320],[3.44,.5335],[3.46,.5318],[3.48,.5328],[3.50,.5315],[3.52,.5325],[3.54,.5312],[3.56,.5320],[3.58,.5305],[3.60,.5322],[3.62,.5310],[3.64,.5295],[3.66,.5308],[3.67,.5290],[3.69,.5305],[3.71,.5295],[3.72,.5308],[3.74,.5285],[3.76,.5300],[3.78,.5280],[3.80,.5292],[3.82,.5275],[3.84,.5288],[3.86,.5268],[3.88,.5280],[3.90,.5260],[3.92,.5272],[3.94,.5255],[3.96,.5265],[3.98,.5250],[4.00,.5262],[4.02,.5245],[4.04,.5255],[4.06,.5238],[4.08,.5248],[4.10,.5228],[4.12,.5235],[4.14,.5220],[4.16,.5225],[4.18,.5215],[4.19,.5230],[4.20,.5262],[4.22,.5285],[4.23,.5280],[4.24,.5272],[4.26,.5285],[4.27,.5278],[4.29,.5262],[4.31,.5245],[4.33,.5225],[4.35,.5208],[4.37,.5198],[4.39,.5205],[4.40,.5190],[4.41,.5198],[4.42,.5188],[4.44,.5200],[4.45,.5190],[4.47,.5195],[4.49,.5205],[4.51,.5215],[4.53,.5230],[4.55,.5238],[4.57,.5245],[4.58,.5255],[4.59,.5248],[4.60,.5258],[4.61,.5250],[4.62,.5245],[4.63,.5255],[4.64,.5248],[4.66,.5250],[4.67,.5255],[4.69,.5242],[4.71,.5235],[4.73,.5230],[4.75,.5225],[4.77,.5220],[4.79,.5215],[4.81,.5210],[4.83,.5208],[4.85,.5210],[4.86,.5205],[4.88,.5200],[4.90,.5193],[4.92,.5185],[4.94,.5180],[4.95,.5183],[4.96,.5177],[4.98,.5180],[5.00,.5175]];

var colors = {high: 'crimson', low: 'royalblue'};

var panels = [
  {top: 14.5, label: '6000 K WD', high: model6000High, low: model6000Low,
   obsHigh: obs6000High, obsLow: obs6000Low, blueHigh: blue6000High, blueLow: blue6000Low, legend: true},
  {top: 533.5, label: '5000 K WD', high: model5000High, low: model5000Low,
   obsHigh: obs5000High, obsLow: obs5000Low, blueHigh: blue5000High, blueLow: blue5000Low},
  {top: 1052.5, label: '4000 K WD', high: model4000High, low: model4000Low,
   obsHigh: obs4000High, obsLow: obs4000Low, blueHigh: blue4000High, blueLow: blue4000Low, note: true}
];

var width = 1018,
    height = 1554,
    margin = {left: 93, right: 21},
    plotH = 440,
    fontSize = 24.3,
    bigFont = 32.4,
    serif = '"Liberation Serif", "Times New Roman", "DejaVu Serif", serif';

var svg = d3.select('#chart').append('svg')
    .attr('width', width)
    .attr('height', height)
    .style('background', '#fff');

var x = d3.scaleLinear()
    .domain([0.6, 5.0])
    .range([margin.left, width - margin.right]);

panels.forEach(function (p, i) {
    var top = p.top;
    var y = d3.scaleLinear().domain([0.51, 0.58]).range([top + plotH, top]);
    var g = svg.append('g').attr('class', 'panel');

    // clip everything drawn inside the axes box
    svg.append('clipPath').attr('id', 'clip' + i)
        .append('rect')
        .attr('x', x.range()[0]).attr('y', top)
        .attr('width', x.range()[1] - x.range()[0]).attr('height', plotH);

    var plot = g.append('g').attr('clip-path', 'url(#clip' + i + ')');

    // simulated data points with error bars
    [['high', p.obsHigh, p.blueHigh], ['low', p.obsLow, p.blueLow]].forEach(function (s) {
        var pts = binWl.map(function (w, k) { return {w: w, v: s[1][k], e: binErr[k]}; })
            .concat(blueWl.map(function (w, k) { return {w: w, v: s[2][k], e: blueErr[k]}; }));
        var dg = plot.append('g');
        dg.selectAll('line').data(pts).enter().append('line')
            .attr('x1', function (d) { return x(d.w); })
            .attr('x2', function (d) { return x(d.w); })
            .attr('y1', function (d) { return y(d.v - d.e); })
            .attr('y2', function (d) { return y(d.v + d.e); })
            .attr('stroke', colors[s[0]])
            .attr('stroke-opacity', 0.3)
            .attr('stroke-width', 2.5);
        dg.selectAll('circle').data(pts).enter().append('circle')
            .attr('cx', function (d) { return x(d.w); })
            .attr('cy', function (d) { return y(d.v); })
            .attr('r', 4.8)
            .attr('fill', colors[s[0]])
            .attr('fill-opacity', 0.32);
    });

    // model spectra
    var line = d3.line()
        .x(function (d) { return x(d[0]); })
        .y(function (d) { return y(d[1]); });

    ['high', 'low'].forEach(function (k) {
        plot.append('path')
            .datum(p[k])
            .attr('d', line)
            .attr('fill', 'none')
            .attr('stroke', colors[k])
            .attr('stroke-width', 2.1)
            .attr('stroke-opacity', 0.95)
            .attr('stroke-linejoin', 'round');
    });

    // axes
    var yAxis = g.append('g')
        .attr('transform', 'translate(' + margin.left + ',0)')
        .call(d3.axisLeft(y).tickValues(yTicks).tickFormat(d3.format('.2f')).tickSize(5).tickPadding(5));
    var xAxis = g.append('g')
        .attr('transform', 'translate(0,' + (top + plotH) + ')')
        .call(d3.axisBottom(x).tickValues(xTicks).tickFormat(d3.format('.1f')).tickSize(5).tickPadding(6));
    [yAxis, xAxis].forEach(function (a) {
        a.attr('font-family', serif).attr('font-size', fontSize);
        a.select('.domain').remove();
        a.selectAll('line').attr('stroke', '#333').attr('stroke-width', 1.1);
        a.selectAll('text')
            .style('font-family', serif)
            .style('font-size', fontSize + 'px')
            .attr('fill', '#000');
    });

    g.append('rect')
        .attr('x', x.range()[0]).attr('y', top)
        .attr('width', x.range()[1] - x.range()[0]).attr('height', plotH)
        .attr('fill', 'none')
        .attr('stroke', '#333')
        .attr('stroke-width', 1.2);

    // axis titles
    g.append('text')
        .attr('x', (x.range()[0] + x.range()[1]) / 2)
        .attr('y', top + plotH + 54)
        .attr('text-anchor', 'middle')
        .style('font-size', fontSize + 'px')
        .text('Wavelength (\u00b5m )');

    var yl = g.append('text')
        .attr('transform', 'translate(31,' + (top + plotH / 2) + ') rotate(-90)')
        .attr('text-anchor', 'middle')
        .style('font-size', fontSize + 'px');
    yl.append('tspan').text('Transit Depth (A');
    yl.append('tspan').attr('dy', 5).style('font-size', '16px').attr('letter-spacing', 1).text('atm');
    yl.append('tspan').attr('dy', -5).text(' /A');
    yl.append('tspan').attr('dy', 5).style('font-size', '16px').text('\u2217');
    yl.append('tspan').attr('dy', -5).text(' )');

    // panel label
    g.append('text')
        .attr('x', 976)
        .attr('y', top + 44.5)
        .attr('text-anchor', 'end')
        .style('font-size', bigFont + 'px')
        .text(p.label);

    if (p.note) {
        var nt = g.append('text')
            .attr('x', 142)
            .attr('y', top + 45)
            .style('font-size', bigFont + 'px');
        nt.append('tspan').text('H');
        nt.append('tspan').attr('dy', 10).style('font-size', '19px').text('2');
        nt.append('tspan').attr('dy', -10).text('-dominated atmosphere');
    }

    if (p.legend) {
        var lg = g.append('g');
        var rows = [
            {x: 115, y: top + 30.5, color: colors.high, text: 'high outgassing'},
            {x: 115, y: top + 65, color: colors.low, text: 'low outgassing'},
            {x: 384, y: top + 30.5, color: '#000', text: 'model'}
        ];
        rows.forEach(function (r) {
            lg.append('line')
                .attr('x1', r.x).attr('x2', r.x + 50)
                .attr('y1', r.y).attr('y2', r.y)
                .attr('stroke', r.color).attr('stroke-width', 2);
            lg.append('text')
                .attr('x', r.x + 68).attr('y', r.y + 9)
                .style('font-size', fontSize + 'px')
                .text(r.text);
        });
        // errorbar symbol
        var ey = top + 65.5;
        lg.append('line')
            .attr('x1', 409).attr('x2', 409)
            .attr('y1', ey - 11.5).attr('y2', ey + 11.5)
            .attr('stroke', '#000').attr('stroke-width', 2);
        lg.append('circle').attr('cx', 409).attr('cy', ey).attr('r', 4.5).attr('fill', '#000');
        lg.append('text')
            .attr('x', 453).attr('y', ey + 9)
            .style('font-size', fontSize + 'px')
            .text('1 NIRSpec PRISM transit');
    }
});
</script>
</body>
</html>
